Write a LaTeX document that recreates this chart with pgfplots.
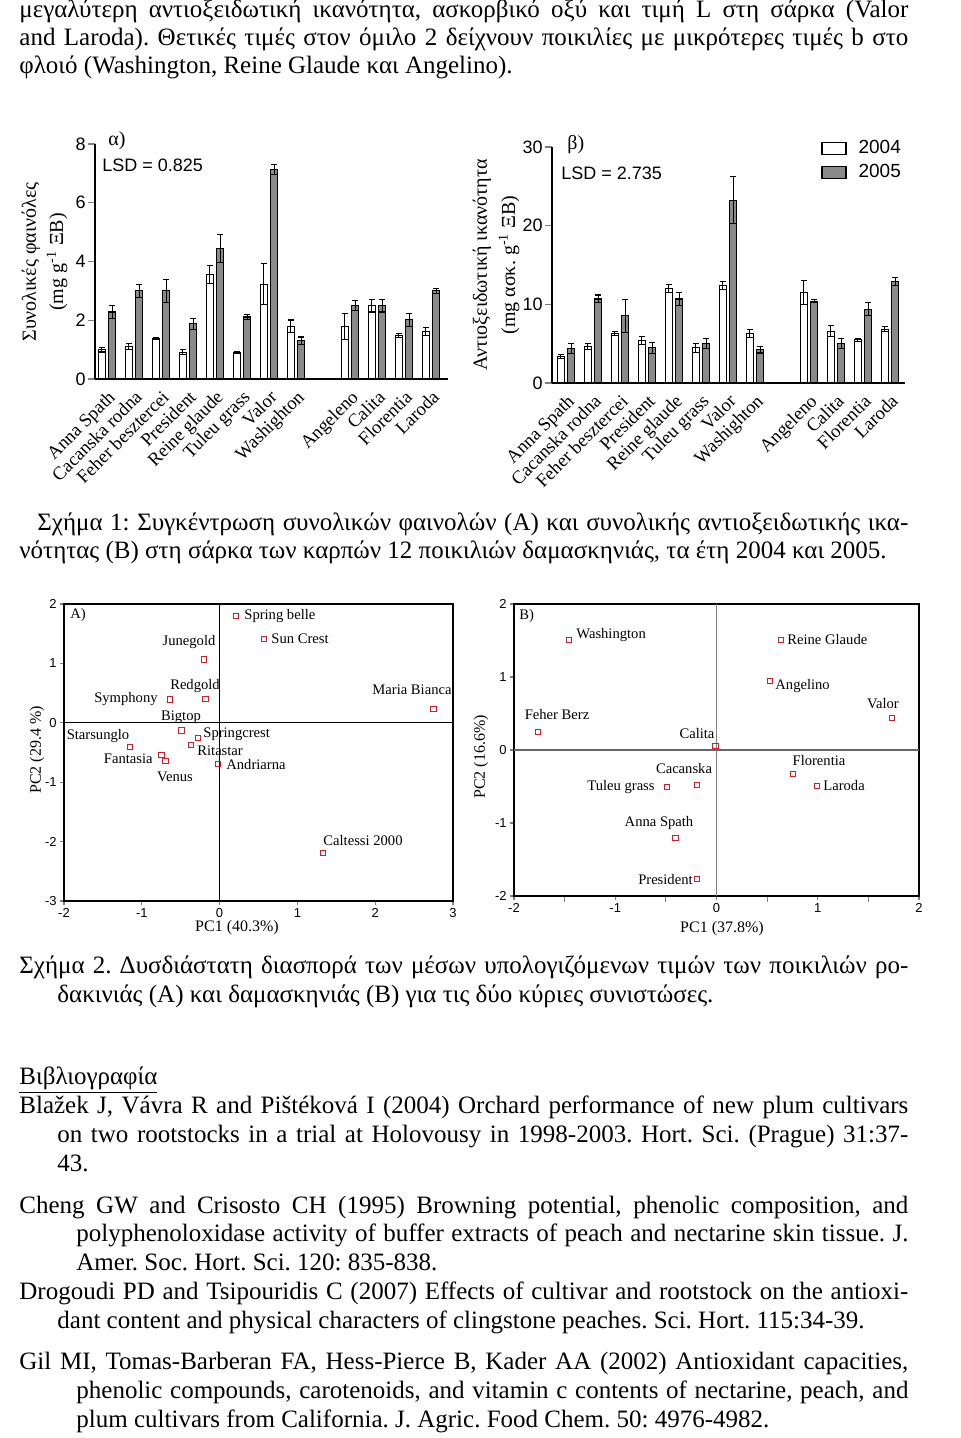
\documentclass[border=0pt]{standalone}
\usepackage{fontspec}
\setmainfont{Liberation Serif}
\setsansfont{Liberation Sans}
\usepackage{pgfplots}
\pgfplotsset{compat=1.18}
\frenchspacing

\definecolor{barg}{RGB}{138,138,138}
\definecolor{mk}{RGB}{200,35,45}

\newlength\natw
\newcommand\jline[2]{\settowidth\natw{#2}%
  \ifdim\natw>#1\relax\resizebox{#1}{\height}{#2}\else\makebox[#1][s]{#2}\fi}
\newcommand\bodyfont{\fontsize{12.5}{14}\selectfont}
\newcommand\tl[3]{\node[anchor=base west,inner sep=0pt,font=\bodyfont] at (#1,#2) {#3};}
\newcommand\jl[4]{\node[anchor=base west,inner sep=0pt,font=\bodyfont] at (#1,#2) {\jline{#3}{#4}};}

\pgfplotsset{
  barchart/.style={
    scale only axis, anchor=south west, enlargelimits=false,
    axis x line=bottom, axis y line=left,
    axis line style={-, line width=0.6pt},
    ybar, bar width=3.5pt,
    xtick={0,1,2,3,4,5,6,7,9,10,11,12},
    xticklabels={Anna Spath, Cacanska rodna, Feher besztercei, President,
      Reine glaude, Tuleu grass, Valor, Washighton, Angeleno, Calita,
      Florentia, Laroda},
    xtick style={draw=none},
    xticklabel style={rotate=45, anchor=north east, inner sep=1pt,
      font=\fontsize{9.3}{9.3}\selectfont},
    ytick style={line width=0.6pt},
    tick align=outside, major tick length=3.5pt,
    yticklabel style={font=\sffamily\fontsize{9}{9}\selectfont, inner sep=1pt},
    /pgf/number format/assume math mode=true,
  },
  white bars/.style={fill=white, draw=black, line width=0.6pt, bar shift=-2.6pt,
    error bars/.cd, y dir=both, y explicit,
    error bar style={black, line width=0.55pt},
    error mark options={rotate=90, mark size=1.5pt, black, line width=0.55pt}},
  grey bars/.style={fill=barg, draw=black, line width=0.6pt, bar shift=2.6pt,
    error bars/.cd, y dir=both, y explicit,
    error bar style={black, line width=0.55pt},
    error mark options={rotate=90, mark size=1.5pt, black, line width=0.55pt}},
  pca/.style={
    scale only axis, anchor=south west, enlargelimits=false,
    axis line style={line width=0.55pt},
    tick pos=left, tick align=outside, major tick length=2pt,
    tick style={line width=0.6pt},
    ticklabel style={font=\sffamily\fontsize{6.5}{6.5}\selectfont, inner sep=1.5pt},
    /pgf/number format/assume math mode=true,
  },
  pts/.style={only marks, mark=square, mark size=1.3pt, mk, mark options={line width=0.5pt}},
}

\begin{document}
\begin{tikzpicture}
\path[use as bounding box] (0,0) rectangle (480pt,-719pt);

% ---------------- chart alpha ----------------
\begin{axis}[barchart, at={(47.5pt,-189.5pt)}, width=176.5pt, height=117.5pt,
  xmin=-0.44, xmax=12.63, ymin=0, ymax=8, ytick={0,2,4,6,8}]
\addplot[white bars] coordinates {
  (0,1.00) +- (0,0.08) (1,1.11) +- (0,0.10) (2,1.39) +- (0,0.03)
  (3,0.91) +- (0,0.08) (4,3.55) +- (0,0.30) (5,0.91) +- (0,0.03)
  (6,3.23) +- (0,0.70) (7,1.79) +- (0,0.22) (9,1.79) +- (0,0.45)
  (10,2.50) +- (0,0.22) (11,1.48) +- (0,0.08) (12,1.62) +- (0,0.14)};
\addplot[grey bars] coordinates {
  (0,2.28) +- (0,0.22) (1,3.00) +- (0,0.22) (2,3.00) +- (0,0.40)
  (3,1.88) +- (0,0.18) (4,4.45) +- (0,0.48) (5,2.11) +- (0,0.08)
  (6,7.12) +- (0,0.17) (7,1.30) +- (0,0.13) (9,2.50) +- (0,0.18)
  (10,2.50) +- (0,0.22) (11,2.02) +- (0,0.22) (12,3.00) +- (0,0.08)};
\end{axis}

% ---------------- chart beta ----------------
\begin{axis}[barchart, at={(276pt,-191.5pt)}, width=176.5pt, height=118pt,
  xmin=-0.52, xmax=12.56, ymin=0, ymax=30, ytick={0,10,20,30},
  legend style={at={(0.745,1.065)}, anchor=north west, draw=none, fill=none,
    font=\sffamily\fontsize{9.5}{9.5}\selectfont, row sep=0pt,
    /tikz/every even column/.append style={column sep=0pt}},
  legend image code/.code={\draw[#1] (0pt,-3pt) rectangle (12pt,3pt);},
  legend cell align=left]
\addplot[white bars] coordinates {
  (0,3.38) +- (0,0.30) (1,4.65) +- (0,0.35) (2,6.34) +- (0,0.25)
  (3,5.37) +- (0,0.50) (4,12.00) +- (0,0.55) (5,4.48) +- (0,0.55)
  (6,12.38) +- (0,0.50) (7,6.34) +- (0,0.50) (9,11.53) +- (0,1.50)
  (10,6.59) +- (0,0.70) (11,5.49) +- (0,0.20) (12,6.84) +- (0,0.30)};
\addlegendentry{\hspace{4pt}2004}
\addplot[grey bars] coordinates {
  (0,4.35) +- (0,0.65) (1,10.69) +- (0,0.50) (2,8.53) +- (0,2.10)
  (3,4.48) +- (0,0.70) (4,10.69) +- (0,0.85) (5,5.03) +- (0,0.68)
  (6,23.24) +- (0,3.00) (7,4.22) +- (0,0.40) (9,10.39) +- (0,0.20)
  (10,5.03) +- (0,0.65) (11,9.38) +- (0,0.85) (12,12.89) +- (0,0.50)};
\addlegendentry{\hspace{4pt}2005}
\end{axis}

% ---------------- PCA A ----------------
\begin{axis}[pca, at={(32pt,-450.5pt)}, width=194.5pt, height=148.5pt,
  xmin=-2, xmax=3, ymin=-3, ymax=2, xtick={-2,...,3}, ytick={-3,...,2}]
\draw[black, line width=0.55pt] (axis cs:0,-3) -- (axis cs:0,2);
\draw[black, line width=0.55pt] (axis cs:-2,0) -- (axis cs:3,0);
\addplot[pts] coordinates {
  (0.215,1.80) (0.575,1.416) (-0.198,1.067) (-0.18,0.40) (-0.636,0.393)
  (2.75,0.236) (-0.49,-0.13) (-0.28,-0.253) (-0.365,-0.37) (-1.147,-0.404)
  (-0.747,-0.545) (-0.696,-0.64) (-0.017,-0.697) (1.33,-2.19)};
\end{axis}

% ---------------- PCA B ----------------
\begin{axis}[pca, at={(257pt,-448pt)}, width=202.5pt, height=146pt,
  xmin=-2, xmax=2, ymin=-2, ymax=2, xtick={-2,...,2}, ytick={-2,...,2},
  minor x tick num=1, axis line style={line width=0.7pt}]
\draw[gray, line width=0.5pt] (axis cs:0,-2) -- (axis cs:0,2);
\draw[gray!80!black, line width=0.55pt] (axis cs:-2,0) -- (axis cs:2,0);
\addplot[pts] coordinates {
  (-1.453,1.507) (0.633,1.507) (0.527,0.95) (1.736,0.434) (-1.766,0.242)
  (-0.01,0.06) (0.758,-0.329) (0.995,-0.498) (-0.191,-0.475) (-0.488,-0.511)
  (-0.405,-1.205) (-0.191,-1.772)};
\end{axis}

\begin{scope}[x=0.5pt, y=-0.5pt]
% body text
\jl{19}{18}{444.5pt}{μεγαλύτερη αντιοξειδωτική ικανότητα, ασκορβικό οξύ και τιμή L στη σάρκα (Valor}
\jl{19}{46}{444.5pt}{and Laroda). Θετικές τιμές στον όμιλο 2 δείχνουν ποικιλίες με μικρότερες τιμές b στο}
\tl{19}{74}{φλοιό (Washington, Reine Glaude και Angelino).}

\jl{37}{530}{435.5pt}{Σχήμα 1: Συγκέντρωση συνολικών φαινολών (Α) και συνολικής αντιοξειδωτικής ικα-}
\tl{19}{558}{νότητας (Β) στη σάρκα των καρπών 12 ποικιλιών δαμασκηνιάς, τα έτη 2004 και 2005.}

\jl{19}{973}{444.5pt}{Σχήμα 2. Δυσδιάστατη διασπορά των μέσων υπολογιζόμενων τιμών των ποικιλιών ρο-}
\tl{57}{1002}{δακινιάς (Α) και δαμασκηνιάς (Β) για τις δύο κύριες συνιστώσες.}

\tl{19}{1084}{\underline{Βιβλιογραφία}}
\jl{19}{1113}{444.5pt}{Blažek J, Vávra R and Pištéková I (2004) Orchard performance of new plum cultivars}
\jl{57}{1142}{425.5pt}{on two rootstocks in a trial at Holovousy in 1998-2003. Hort. Sci. (Prague) 31:37-}
\tl{57}{1171}{43.}
\jl{19}{1213}{444.5pt}{Cheng GW and Crisosto CH (1995) Browning potential, phenolic composition, and}
\jl{76}{1241}{416pt}{polyphenoloxidase activity of buffer extracts of peach and nectarine skin tissue. J.}
\tl{76}{1270}{Amer. Soc. Hort. Sci. 120: 835-838.}
\jl{19}{1299}{444.5pt}{Drogoudi PD and Tsipouridis C (2007) Effects of cultivar and rootstock on the antioxi-}
\tl{57}{1328}{dant content and physical characters of clingstone peaches. Sci. Hort. 115:34-39.}
\jl{19}{1369}{444.5pt}{Gil MI, Tomas-Barberan FA, Hess-Pierce B, Kader AA (2002) Antioxidant capacities,}
\jl{76}{1398}{416pt}{phenolic compounds, carotenoids, and vitamin c contents of nectarine, peach, and}
\tl{76}{1427}{plum cultivars from California. J. Agric. Food Chem. 50: 4976-4982.}

% chart alpha annotations
\node[anchor=west, inner sep=0pt, font=\fontsize{10}{10}\selectfont] at (108,141) {α)};
\node[anchor=west, inner sep=0pt, font=\sffamily\fontsize{9}{9}\selectfont] at (102,165) {LSD = 0.825};
\node[rotate=90, inner sep=0pt, font=\fontsize{10}{10}\selectfont] at (31,262) {Συνολικές φαινόλες};
\node[rotate=90, inner sep=0pt, font=\fontsize{10}{10}\selectfont] at (57,262) {(mg g\textsuperscript{-1} ΞΒ)};
% chart beta annotations
\node[anchor=west, inner sep=0pt, font=\fontsize{10}{10}\selectfont] at (567,145) {β)};
\node[anchor=west, inner sep=0pt, font=\sffamily\fontsize{9}{9}\selectfont] at (561,173) {LSD = 2.735};
\node[rotate=90, inner sep=0pt, font=\fontsize{10}{10}\selectfont] at (482,265) {Αντιοξειδωτική ικανότητα};
\node[rotate=90, inner sep=0pt, font=\fontsize{10}{10}\selectfont] at (509,265) {(mg ασκ. g\textsuperscript{-1} ΞΒ)};

% PCA A labels
\begin{scope}[every node/.style={inner sep=0pt, font=\fontsize{7.3}{7.3}\selectfont}]
\node[anchor=west] at (70,615) {A)};
\node[anchor=west] at (244,616) {Spring belle};
\node[anchor=west] at (271,639) {Sun Crest};
\node at (189,642) {Junegold};
\node at (195,686) {Redgold};
\node[anchor=east] at (158,699) {Symphony};
\node at (412,690) {Maria Bianca};
\node at (181,717) {Bigtop};
\node at (98,736) {Starsunglo};
\node[anchor=west] at (203,734) {Springcrest};
\node[anchor=west] at (197,751) {Ritastar};
\node[anchor=east] at (153,759) {Fantasia};
\node at (175,777) {Venus};
\node[anchor=west] at (226,765) {Andriarna};
\node at (363,840) {Caltessi 2000};
\node[rotate=90, font=\fontsize{8}{8}\selectfont] at (37,750) {PC2 (29.4 \%)};
\node[font=\fontsize{8}{8}\selectfont] at (237,928) {PC1 (40.3\%)};
% PCA B labels
\node[anchor=west] at (519,616) {B)};
\node[anchor=west] at (576,635) {Washington};
\node[anchor=west] at (787,640) {Reine Glaude};
\node[anchor=west] at (775,686) {Angelino};
\node at (883,704) {Valor};
\node at (557,715) {Feher Berz};
\node at (697,734) {Calita};
\node at (819,761) {Florentia};
\node[anchor=west] at (823,786) {Laroda};
\node at (684,769) {Cacanska};
\node[anchor=east] at (655,787) {Tuleu grass};
\node at (659,823) {Anna Spath};
\node[anchor=east] at (693,879) {President};
\node[rotate=90, font=\fontsize{8}{8}\selectfont] at (481,757) {PC2 (16.6\%)};
\node[font=\fontsize{8}{8}\selectfont] at (722,929) {PC1 (37.8\%)};
\end{scope}
\end{scope}
\end{tikzpicture}
\end{document}
